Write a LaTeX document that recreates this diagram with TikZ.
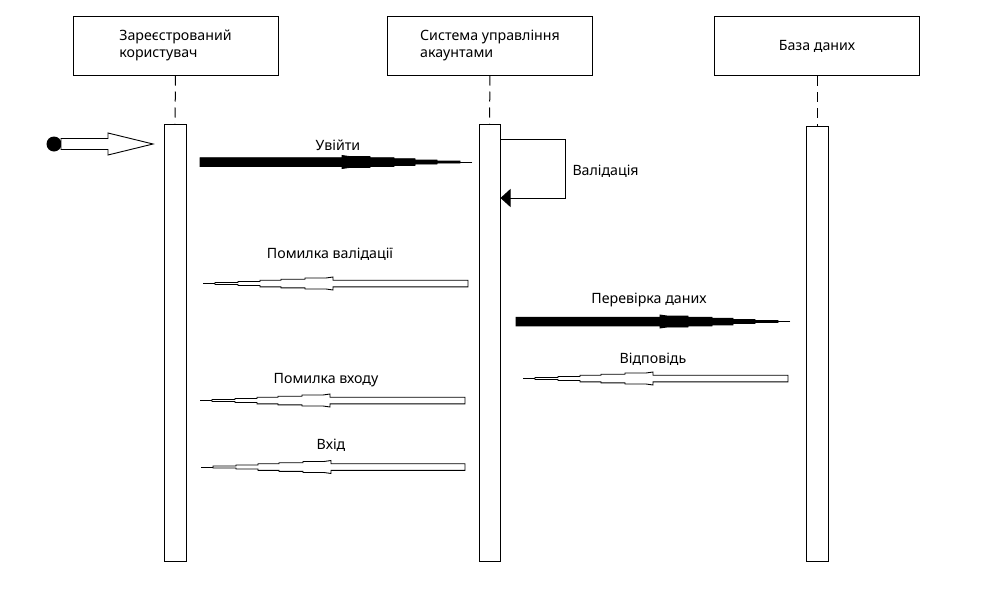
\documentclass[tikz,border=0pt]{standalone}
\usepackage{fontspec}
\setmainfont{Noto Sans}
\usetikzlibrary{arrows.meta}
% #1 tip x, #2 tail x, #3 y, #4 style, #5 half height of the shaft
\newcommand\msgarrow[5]{%
  \pgfmathsetmacro\sgn{ifthenelse(#2>#1,1,-1)}%
  \draw[#4] (#1,#3) -- ({#1+\sgn*12},#3);
  \draw[#4] ({#1+\sgn*12},{#3-1}) -- ({#1+\sgn*35},{#3-1}) -- ({#1+\sgn*35},{#3-2})
    -- ({#1+\sgn*57},{#3-2}) -- ({#1+\sgn*57},{#3-3.3}) -- ({#1+\sgn*78},{#3-3.3})
    -- ({#1+\sgn*78},{#3-4.3}) -- ({#1+\sgn*102},{#3-4.3}) -- ({#1+\sgn*102},{#3-5.5})
    -- ({#1+\sgn*123},{#3-5.5}) -- ({#1+\sgn*130},{#3-6.5}) -- ({#1+\sgn*130},{#3-#5})
    -- (#2,{#3-#5}) -- (#2,{#3+#5}) -- ({#1+\sgn*130},{#3+#5}) -- ({#1+\sgn*130},{#3+6.5})
    -- ({#1+\sgn*123},{#3+5.5}) -- ({#1+\sgn*102},{#3+5.5}) -- ({#1+\sgn*102},{#3+4.3})
    -- ({#1+\sgn*78},{#3+4.3}) -- ({#1+\sgn*78},{#3+3.3}) -- ({#1+\sgn*57},{#3+3.3})
    -- ({#1+\sgn*57},{#3+2}) -- ({#1+\sgn*35},{#3+2}) -- ({#1+\sgn*35},{#3+1})
    -- ({#1+\sgn*12},{#3+1}) -- cycle;
}
\begin{document}
\begin{tikzpicture}[x=1pt,y=-1pt,line width=1pt,
  every node/.style={font=\fontsize{14.2}{17.8}\selectfont},
  actor/.style={draw,minimum width=205pt,minimum height=59pt,align=left,inner sep=0pt},
  bar/.style={draw,fill=white,minimum width=22pt,inner sep=0pt},
  life/.style={dash pattern=on 10pt off 6pt},
  lbl/.style={anchor=base,inner sep=0pt},
  hollow/.style={draw=black,fill=white,line width=0.9pt},
  solid/.style={draw=black,fill=black,line width=0.9pt}]
\useasboundingbox (0,0) rectangle (983,592);
% actors
\node[actor] (a1) at (175.5,45.5) {Зареєстрований\\користувач};
\node[actor] (a2) at (490,45.5) {Система управління\\акаунтами};
\node[actor] (a3) at (817,46) {База даних};
% activation bars
\node[bar,minimum height=437pt] (b1) at (175,342.5) {};
\node[bar,minimum width=21pt,minimum height=437pt] (b2) at (489.5,342.5) {};
\node[bar,minimum height=435pt] (b3) at (817,343.5) {};
\draw[life] (a1.south) -- (b1.north);
\draw[life] (a2.south) -- (b2.north);
\draw[life] (a3.south) -- (b3.north);
% initial
\node[circle,fill=black,minimum size=15pt,inner sep=0pt] (start) at (54,144) {};
\draw[hollow] (61,138.5) -- (108,138.5) -- (108,133) -- (153,144) -- (108,155) -- (108,149.5) -- (61,149.5) -- cycle;
% messages
\msgarrow{472}{200}{162}{solid}{4.3}
\node[lbl] (m1) at (338,150.5) {Увійти};
\coordinate (s1) at (b2.east |- 0,139);
\coordinate (s2) at (565,139);
\coordinate (s3) at (565,198);
\coordinate (s4) at (b2.east |- 0,198);
\draw[-{Triangle[length=10pt,width=18pt]}] (s1) -- (s2) -- (s3) -- (s4);
\node[lbl,anchor=base west] (m2) at (572,175) {Валідація};
\msgarrow{203}{468}{283.5}{hollow}{3.3}
\node[lbl] (m3) at (330,258) {Помилка валідації};
\msgarrow{790}{516}{321.5}{solid}{4.3}
\node[lbl] (m4) at (649,303) {Перевірка даних};
\msgarrow{523}{788}{378.5}{hollow}{3.3}
\node[lbl] (m5) at (653,363) {Відповідь};
\msgarrow{200}{465}{400.5}{hollow}{3.3}
\node[lbl] (m6) at (326,383.5) {Помилка входу};
\msgarrow{201}{465}{467}{hollow}{3.3}
\node[lbl] (m7) at (331,449) {Вхід};
\end{tikzpicture}
\end{document}
